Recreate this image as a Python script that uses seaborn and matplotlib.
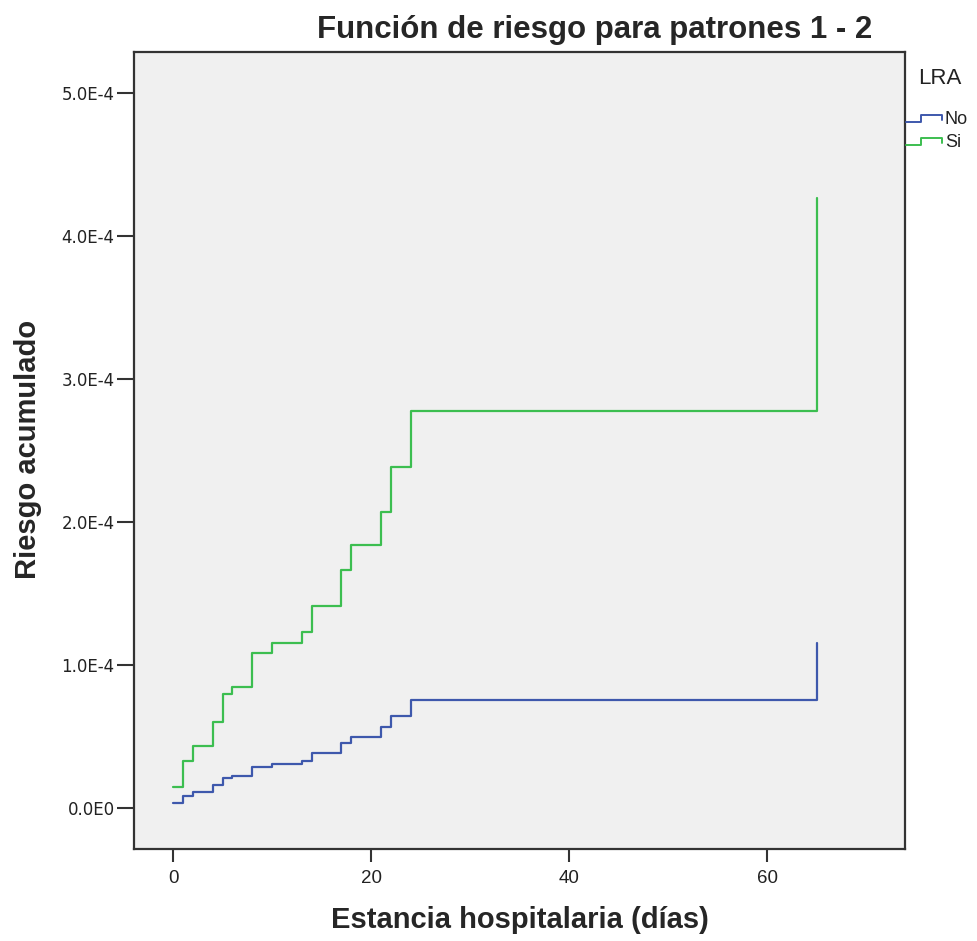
import numpy as np
import pandas as pd
import matplotlib
matplotlib.use("Agg")
import matplotlib.pyplot as plt
import seaborn as sns
from matplotlib.lines import Line2D
from matplotlib.legend_handler import HandlerBase

# ---- data ----
dias = [0, 1, 2, 4, 5, 6, 8, 10, 13, 14, 17, 18, 21, 22, 24, 65]
riesgo_no = [0.035e-4, 0.084e-4, 0.112e-4, 0.161e-4, 0.210e-4, 0.224e-4, 0.289e-4,
             0.308e-4, 0.331e-4, 0.382e-4, 0.452e-4, 0.494e-4, 0.564e-4, 0.646e-4,
             0.755e-4, 1.156e-4]
riesgo_si = [0.149e-4, 0.331e-4, 0.436e-4, 0.603e-4, 0.795e-4, 0.848e-4, 1.082e-4,
             1.152e-4, 1.233e-4, 1.413e-4, 1.664e-4, 1.839e-4, 2.068e-4, 2.387e-4,
             2.778e-4, 4.264e-4]
grupos = ["No", "Si"]
colores = ["#3E58AC", "#3CBE50"]
xticks = [0, 20, 40, 60]
yticks = [0, 1e-4, 2e-4, 3e-4, 4e-4, 5e-4]
ytick_labels = ["0.0E0", "1.0E-4", "2.0E-4", "3.0E-4", "4.0E-4", "5.0E-4"]

df = pd.DataFrame({
    "dias": dias + dias,
    "riesgo": riesgo_no + riesgo_si,
    "LRA": [grupos[0]] * len(dias) + [grupos[1]] * len(dias),
})

sns.set_style("white")
plt.rcParams["font.family"] = ["Liberation Sans", "DejaVu Sans"]

W, H = 977, 941
fig = plt.figure(figsize=(W / 100, H / 100), dpi=100)
L, R, T, B = 134, 905, 52, 849
ax = fig.add_axes([L / W, 1 - B / H, (R - L) / W, (B - T) / H])
ax.set_facecolor("#F0F0F0")

sns.lineplot(data=df, x="dias", y="riesgo", hue="LRA", hue_order=grupos,
             palette=colores, drawstyle="steps-post", estimator=None,
             linewidth=1.6, legend=False, ax=ax)

ax.set_xlim(-3.94, 73.9)
ax.set_ylim(-0.287e-4, 5.287e-4)
ax.set_xticks(xticks)
ax.set_xticklabels([str(v) for v in xticks], fontsize=13.5, color="#222222")
ax.set_yticks(yticks)
ax.set_yticklabels(ytick_labels, fontsize=12, color="#222222",
                   family=["DejaVu Sans"])
ax.tick_params(axis="x", length=9, width=1.5, color="#333333", pad=6, bottom=True)
ax.tick_params(axis="y", length=12, width=1.5, color="#333333", pad=2, left=True)
for s in ax.spines.values():
    s.set_visible(True)
    s.set_color("#333333")
    s.set_linewidth(1.6)

ax.set_xlabel("Estancia hospitalaria (días)", fontsize=21, fontweight="bold")
ax.xaxis.label.set_va("center")
ax.xaxis.set_label_coords(0.5, (B - 920) / (B - T))
ax.set_ylabel("Riesgo acumulado", fontsize=21, fontweight="bold")
ax.yaxis.label.set_va("center")
ax.yaxis.set_label_coords((28 - L) / (R - L), (B - 449) / (B - T))

fig.text(595 / W, 1 - 30 / H, "Función de riesgo para patrones 1 - 2",
         fontsize=22.5, fontweight="bold", ha="center", va="center")


class StepHandler(HandlerBase):
    def create_artists(self, legend, orig_handle, xdescent, ydescent,
                       width, height, fontsize, trans):
        xs = np.array([0, 0.42, 0.42, 1.0, 1.0]) * width - xdescent
        ys = np.array([0.15, 0.15, 0.75, 0.75, 0.35]) * height - ydescent
        ln = Line2D(xs, ys, color=orig_handle.get_color(),
                    linewidth=orig_handle.get_linewidth())
        ln.set_transform(trans)
        return [ln]


handles = [Line2D([0], [0], color=c, linewidth=1.4) for c in colores]
fig.text(940 / W, 1 - 79 / H, "LRA", fontsize=16, ha="center", va="center",
         color="#222222")
leg = fig.legend(handles, grupos, loc="upper left",
                 bbox_to_anchor=(906 / W, 1 - 111 / H),
                 frameon=False, fontsize=13, handlelength=2.0,
                 handletextpad=0.15, labelspacing=0.35, borderpad=0,
                 borderaxespad=0, handler_map={Line2D: StepHandler()})
for t in leg.get_texts():
    t.set_color("#222222")

fig.savefig("out.png", dpi=100, facecolor="white")
